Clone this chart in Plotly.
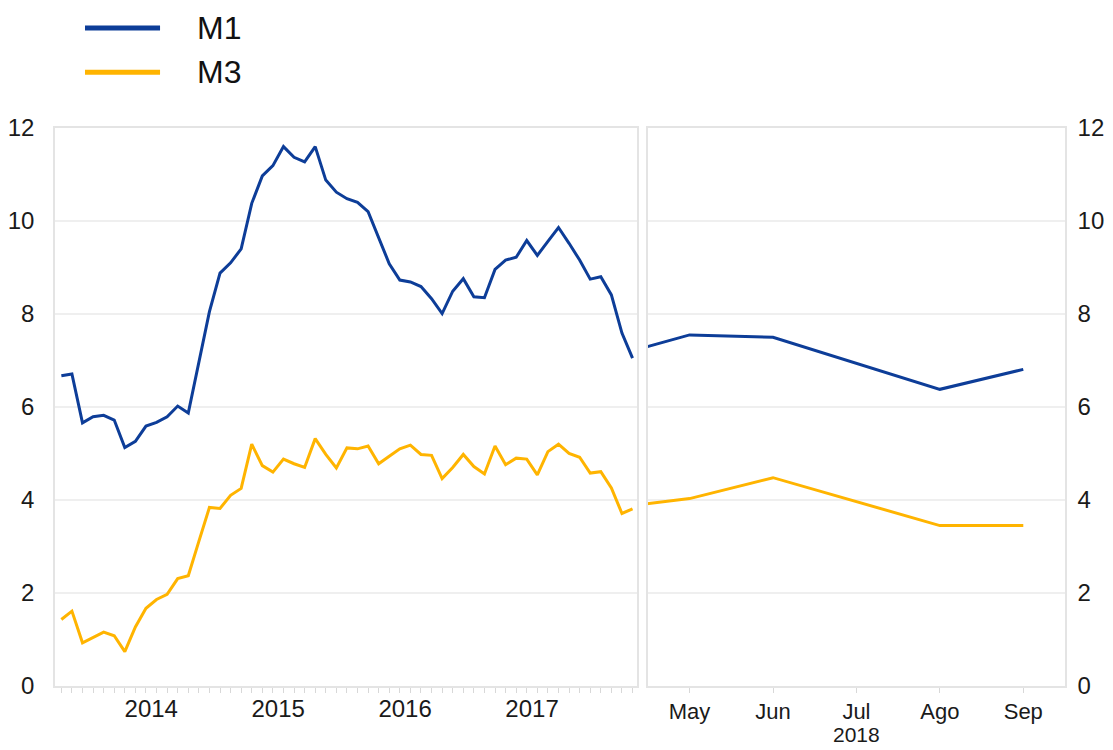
import plotly.graph_objects as go

# ---- data (monthly, Oct-2013 .. Apr-2018) ----
m1_hist = [6.67, 6.71, 5.66, 5.79, 5.82, 5.72, 5.13, 5.26, 5.59, 5.67,
           5.79, 6.02, 5.87, 6.95, 8.05, 8.88, 9.10, 9.40, 10.38, 10.97,
           11.19, 11.60, 11.37, 11.27, 11.60, 10.88, 10.62, 10.48, 10.40, 10.20,
           9.64, 9.08, 8.73, 8.69, 8.59, 8.33, 8.01, 8.49, 8.76, 8.37,
           8.35, 8.96, 9.16, 9.22, 9.58, 9.26, 9.56, 9.86, 9.52, 9.16,
           8.75, 8.80, 8.41, 7.59, 7.05]
m3_hist = [1.43, 1.61, 0.93, 1.04, 1.16, 1.08, 0.74, 1.27, 1.67, 1.86,
           1.97, 2.31, 2.37, 3.11, 3.84, 3.82, 4.10, 4.25, 5.20, 4.74,
           4.60, 4.88, 4.78, 4.70, 5.32, 4.98, 4.69, 5.12, 5.10, 5.16,
           4.78, 4.94, 5.10, 5.18, 4.98, 4.96, 4.46, 4.70, 4.98, 4.72,
           4.56, 5.16, 4.76, 4.90, 4.88, 4.54, 5.04, 5.20, 5.00, 4.92,
           4.58, 4.61, 4.26, 3.71, 3.81]
years = ["2014", "2015", "2016", "2017"]
first_jan_index = 3          # Oct-2013 -> Jan-2014

months_2018 = ["Abr", "May", "Jun", "Jul", "Ago", "Sep"]
m1_2018 = [7.05, 7.55, 7.50, 6.94, 6.38, 6.81]
m3_2018 = [3.81, 4.03, 4.48, 3.96, 3.45, 3.45]
year_2018 = "2018"

BLUE = "#0d3d98"
YELLOW = "#ffb400"
FRAME = "#e4e4e4"
GRID = "#efefef"
TXT = "#1a1a1a"
FONT = "Liberation Sans"

x_hist = list(range(len(m1_hist)))
x_2018 = list(range(len(months_2018)))

fig = go.Figure()
fig.add_trace(go.Scatter(x=x_hist, y=m1_hist, mode="lines", name="M1",
                         line=dict(color=BLUE, width=3), xaxis="x", yaxis="y",
                         showlegend=False))
fig.add_trace(go.Scatter(x=x_hist, y=m3_hist, mode="lines", name="M3",
                         line=dict(color=YELLOW, width=3), xaxis="x", yaxis="y",
                         showlegend=False))
fig.add_trace(go.Scatter(x=x_2018, y=m1_2018, mode="lines", name="M1",
                         line=dict(color=BLUE, width=3), xaxis="x2", yaxis="y2",
                         showlegend=False))
fig.add_trace(go.Scatter(x=x_2018, y=m3_2018, mode="lines", name="M3",
                         line=dict(color=YELLOW, width=3), xaxis="x2", yaxis="y2",
                         showlegend=False))

year_ticks = [first_jan_index + 5.5 + 12 * k for k in range(len(years))]

# page body has ~8px default margin; figure sized to fit the window
fig.update_layout(
    width=1105, height=742,
    margin=dict(l=47, r=48, t=120, b=64, autoexpand=False),
    paper_bgcolor="white", plot_bgcolor="white",
    font=dict(family=FONT, color=TXT, size=24),
    xaxis=dict(domain=[0, 0.576], range=[-0.6, 54.4],
               tickmode="array", tickvals=year_ticks, ticktext=years,
               ticks="", showgrid=False, zeroline=False,
               showline=True, mirror=True, linecolor=FRAME, linewidth=1.5,
               tickfont=dict(size=24, color=TXT),
               minor=dict(ticks="outside", tickmode="array",
                          tickvals=x_hist, ticklen=5, tickcolor="#d8d8d8",
                          tickwidth=1, showgrid=False)),
    yaxis=dict(domain=[0, 1], range=[0, 12], dtick=2, anchor="x",
               showgrid=True, gridcolor=GRID, gridwidth=1.5, zeroline=False,
               showline=True, mirror=True, linecolor=FRAME, linewidth=1.5,
               ticks="", ticklabelstandoff=14,
               tickfont=dict(size=24, color=TXT)),
    xaxis2=dict(domain=[0.587, 1], range=[0.5, 5.5], anchor="y2",
                tickmode="array", tickvals=x_2018[1:], ticktext=months_2018[1:],
                ticks="outside", ticklen=5, tickcolor="#d8d8d8",
                showgrid=False, zeroline=False,
                showline=True, mirror=True, linecolor=FRAME, linewidth=1.5,
                tickfont=dict(size=22, color=TXT)),
    yaxis2=dict(domain=[0, 1], range=[0, 12], dtick=2, anchor="x2", side="right",
                showgrid=True, gridcolor=GRID, gridwidth=1.5, zeroline=False,
                showline=True, mirror=True, linecolor=FRAME, linewidth=1.5,
                ticks="", ticklabelstandoff=6,
                tickfont=dict(size=24, color=TXT)),
)

# "2018" under the month labels
fig.add_annotation(x=3, y=0, xref="x2", yref="paper", text=year_2018,
                   showarrow=False, yanchor="top", yshift=-35,
                   font=dict(size=21, color=TXT, family=FONT))

# manual legend (long line samples)
legend_items = [("M1", BLUE, 1.179), ("M3", YELLOW, 1.100)]
for name, col, yy in legend_items:
    fig.add_shape(type="line", xref="paper", yref="paper",
                  x0=0.0297, x1=0.104, y0=yy, y1=yy,
                  line=dict(color=col, width=5))
    fig.add_annotation(x=0.1386, y=yy, xref="paper", yref="paper",
                       text=name, showarrow=False, xanchor="left",
                       yanchor="middle",
                       font=dict(size=32, color="#111111", family=FONT))

fig.write_html("out.html")
